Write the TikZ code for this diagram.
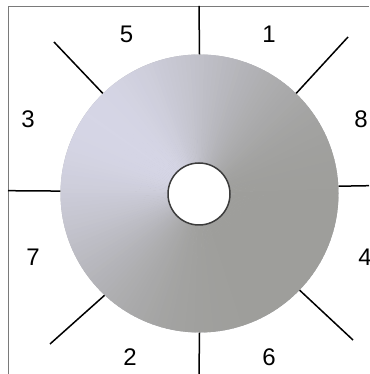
\documentclass[tikz,border=0pt]{standalone}
\usepackage{fontspec}
\setmainfont{Liberation Sans}
\usepackage{tikz}
\usetikzlibrary{positioning}
\definecolor{dsklight}{HTML}{D6D6E6}
\definecolor{dskgray}{HTML}{9E9E9B}
\definecolor{frmgray}{HTML}{7A7A7A}
\definecolor{rimdark}{HTML}{3C3C3C}
\tikzset{
  spoke/.style={draw=black, line width=1.5pt},
  frm/.style={draw=frmgray, line width=0.8pt},
  num/.style={font=\fontsize{24}{28}\selectfont, inner sep=0pt},
  rim/.style={circle, minimum size=278pt, inner sep=0pt},
  hub/.style={circle, draw=rimdark, line width=1.5pt, fill=white,
              minimum size=62pt, inner sep=0pt},
}

\begin{document}
\begin{tikzpicture}[x=1pt,y=1pt]
\useasboundingbox (0,0) rectangle (369,374);
\clip (0,0) rectangle (369,374);

% frame
\draw[frm] (8,0) -- (8,368) -- (369,368);

% disk, conic shading
\coordinate (c) at (199.5,180.5);
\fill[dsklight!40!dskgray] (c) circle (139);
\foreach \a in {0,2,...,358}{
  \pgfmathtruncatemacro{\t}{100*((1+cos(\a+1-145))/2)^2}
  \fill[dsklight!\t!dskgray] (c) -- ++(\a:139)
     arc[start angle=\a, end angle=\a+2.4, radius=139] -- cycle;
}
\node[rim] (disk) at (c) {};
\node[hub] (hole) at (199,180) {};

% spoke ends
\coordinate (sN) at (199,368);
\coordinate (sS) at (199,0);
\coordinate (sW) at (8,183.3);
\coordinate (sE) at (369,188.3);
\coordinate (sNW) at (54,332);
\coordinate (sNE) at (348,337);
\coordinate (sSW) at (50,30);
\coordinate (sSE) at (353,34);

\draw[spoke] (disk.90) -- (sN);
\draw[spoke] (disk.270) -- (sS);
\draw[spoke] (disk.179) -- (sW);
\draw[spoke] (disk.3) -- (sE);
\draw[spoke] (disk.134) -- (sNW);
\draw[spoke] (disk.46) -- (sNE);
\draw[spoke] (disk.227) -- (sSW);
\draw[spoke] (disk.316) -- (sSE);

% sector numbers
\node[num] (n5) at (126.5,340) {5};
\node[num] (n1) at (269,340) {1};
\node[num] (n3) at (28,255) {3};
\node[num] (n8) at (361,255) {8};
\node[num] (n7) at (33,117) {7};
\node[num] (n4) at (365,117) {4};
\node[num] (n2) at (130,17) {2};
\node[num] (n6) at (269,17) {6};
\end{tikzpicture}
\end{document}
